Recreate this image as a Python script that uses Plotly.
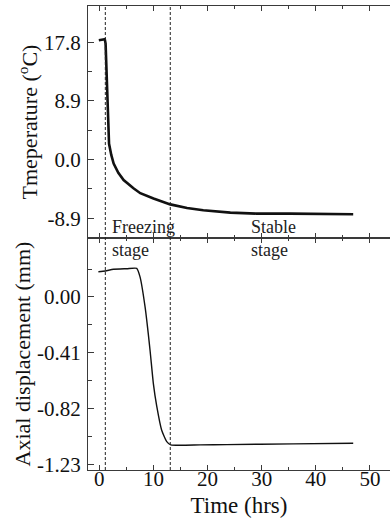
import plotly.graph_objects as go

# ---- data ----
time_temp = [-0.1, 0.5, 1.0, 1.15, 1.3, 1.53, 1.79, 2.2, 2.64, 3.5, 4.48, 6.3, 7.56,
             10.0, 13.1, 16.2, 19.2, 24.2, 29.1, 35.2, 41.4, 46.9]
temp = [18.1, 18.15, 18.25, 17.6, 14.0, 5.5, 2.4, 0.7, -0.6, -2.0, -3.1, -4.35, -5.1,
        -5.9, -6.8, -7.35, -7.7, -8.05, -8.2, -8.2, -8.2, -8.3]

time_disp = [-0.18, 1.1, 2.6, 5.06, 6.9, 7.5, 8.44, 9.36, 9.97, 10.6, 11.5, 12.45,
             13.2, 18.6, 23.5, 35.8, 46.9]
disp = [0.185, 0.19, 0.203, 0.207, 0.21, 0.149, -0.071, -0.388, -0.632, -0.80,
        -0.974, -1.059, -1.083, -1.083, -1.081, -1.076, -1.071]

stage_bounds = [1.1, 13.1]

x_ticks = [0, 10, 20, 30, 40, 50]
temp_ticks = [-8.9, 0.0, 8.9, 17.8]
temp_ticktext = ["-8.9", "0.0", "8.9", "17.8"]
disp_ticks = [-1.23, -0.82, -0.41, 0.00]
disp_ticktext = ["-1.23", "-0.82", "-0.41", "0.00"]

stage_labels = ["Freezing<br>stage", "Stable<br>stage"]
stage_label_x = [2.0, 27.7]

FONT = "Liberation Serif"
AX = "#3a3a3a"


def halfway(vals, extra_lo=True, extra_hi=True):
    step = vals[1] - vals[0]
    out = [(a + b) / 2 for a, b in zip(vals[:-1], vals[1:])]
    if extra_lo:
        out = [vals[0] - step / 2] + out
    if extra_hi:
        out = out + [vals[-1] + step / 2]
    return out


fig = go.Figure()
fig.add_trace(go.Scatter(x=time_temp, y=temp, mode="lines",
                         line=dict(color="#111", width=2.6),
                         xaxis="x", yaxis="y", showlegend=False))
fig.add_trace(go.Scatter(x=time_disp, y=disp, mode="lines",
                         line=dict(color="#111", width=1.4, shape="spline", smoothing=0.5),
                         xaxis="x2", yaxis="y2", showlegend=False))

xrange = [-2.1, 53.7]
common_x = dict(range=xrange, showline=True, linecolor=AX, linewidth=1, mirror="allticks",
                ticks="inside", ticklen=5, tickcolor=AX, tickvals=x_ticks,
                minor=dict(tickvals=halfway(x_ticks), ticks="inside", ticklen=3, tickcolor=AX),
                showgrid=False, zeroline=False,
                tickfont=dict(family=FONT, size=21, color="#111"))

fig.update_layout(
    width=390, height=526,
    margin=dict(l=88, r=0, t=6, b=56),
    paper_bgcolor="white", plot_bgcolor="white",
    font=dict(family=FONT, color="#111"),
    xaxis=dict(**common_x, anchor="y", showticklabels=False),
    xaxis2=dict(**common_x, anchor="y2", matches="x", ticklabelstandoff=-10,
                title=dict(text="Time (hrs)", font=dict(family=FONT, size=23), standoff=6)),
    yaxis=dict(domain=[0.5, 1], range=[-11.9, 23.3], showline=True, linecolor=AX, linewidth=1,
               ticks="inside", ticklen=6, tickcolor=AX,
               tickvals=temp_ticks, ticktext=temp_ticktext,
               minor=dict(tickvals=halfway(temp_ticks, extra_hi=False), ticks="inside",
                          ticklen=4, tickcolor=AX),
               showgrid=False, zeroline=False, ticklabelstandoff=2,
               tickfont=dict(family=FONT, size=21, color="#111"),
               title=dict(text="Tmeperature (<sup>o</sup>C)", font=dict(family=FONT, size=22),
                          standoff=0)),
    yaxis2=dict(domain=[0, 0.5], range=[-1.267, 0.432], showline=True, linecolor=AX, linewidth=1,
                ticks="inside", ticklen=6, tickcolor=AX,
                tickvals=disp_ticks, ticktext=disp_ticktext,
                minor=dict(tickvals=halfway(disp_ticks, extra_lo=False), ticks="inside",
                           ticklen=4, tickcolor=AX),
                showgrid=False, zeroline=False, ticklabelstandoff=2,
                tickfont=dict(family=FONT, size=21, color="#111"),
                title=dict(text="Axial displacement (mm)", font=dict(family=FONT, size=22),
                           standoff=0)),
)

for xb in stage_bounds:
    fig.add_shape(type="line", xref="x", yref="paper", x0=xb, x1=xb, y0=0, y1=1,
                  line=dict(color="#222", width=1, dash="3px,2px"))

for txt, xl in zip(stage_labels, stage_label_x):
    fig.add_annotation(text=txt, x=xl, xref="x", y=0.5, yref="paper",
                       xanchor="left", yanchor="middle", align="left", showarrow=False,
                       font=dict(family=FONT, size=18, color="#222"))

fig.write_html("out.html")
